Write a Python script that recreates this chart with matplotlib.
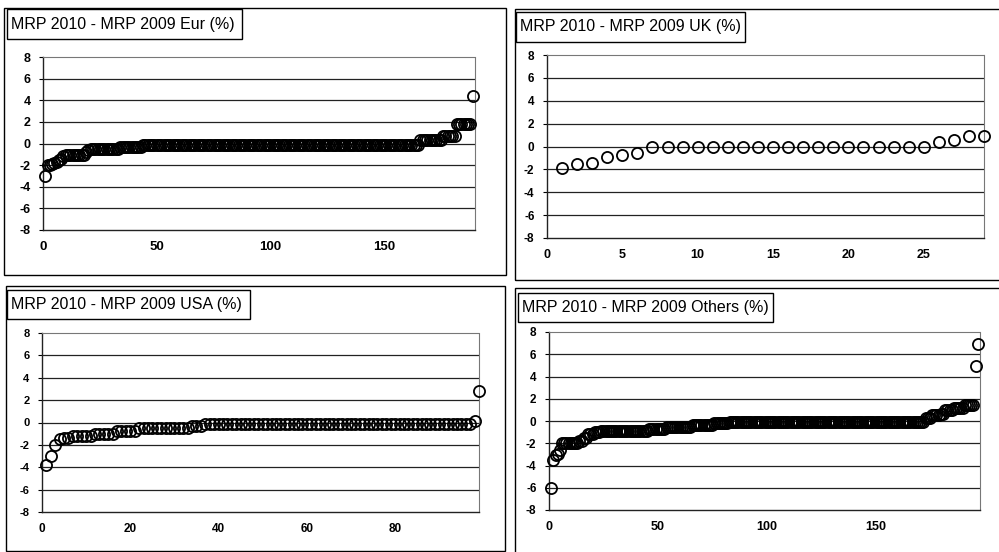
import numpy as np
import matplotlib.pyplot as plt
from matplotlib.patches import Rectangle

plt.rcParams['font.family'] = ['Liberation Sans', 'DejaVu Sans']
plt.rcParams['axes.unicode_minus'] = False

# sorted differences, stored as runs of (value, count)
eur_vals = [-3.0, -2.0, -1.9, -1.8, -1.7, -1.5, -1.4, -1.2, -1.1, -0.8, -0.6, -0.5, -0.3, -0.1, 0.3, 0.7, 1.8, 4.4]
eur_cnts = [1, 2, 1, 1, 1, 1, 1, 1, 9, 1, 1, 13, 10, 122, 10, 6, 7, 1]

uk_vals = [-1.9, -1.5, -1.4, -0.9, -0.7, -0.6, -0.05, 0.4, 0.6, 0.9]
uk_cnts = [1, 1, 1, 1, 1, 1, 19, 1, 1, 2]

usa_vals = [-3.8, -3.0, -2.0, -1.5, -1.4, -1.2, -1.0, -0.8, -0.5, -0.3, -0.15, 0.1, 2.8]
usa_cnts = [1, 1, 1, 1, 2, 5, 5, 5, 12, 3, 61, 1, 1]

oth_vals = [-6.0, -3.5, -3.1, -3.0, -2.6, -2.0, -1.8, -1.5, -1.2, -1.0, -0.9, -0.7, -0.5, -0.4, -0.2,
            -0.05, 0.3, 0.5, 0.6, 1.0, 1.2, 1.4, 4.9, 6.9]
oth_cnts = [1, 1, 1, 1, 1, 8, 2, 2, 3, 3, 22, 8, 12, 10, 7, 90, 3, 4, 2, 4, 5, 5, 1, 1]

titles = ['MRP 2010 - MRP 2009 Eur (%)', 'MRP 2010 - MRP 2009 UK (%)',
          'MRP 2010 - MRP 2009 USA (%)', 'MRP 2010 - MRP 2009 Others (%)']
xticks = [[0, 50, 100, 150], [0, 5, 10, 15, 20, 25], [0, 20, 40, 60, 80], [0, 50, 100, 150]]
yticks = [-8, -6, -4, -2, 0, 2, 4, 6, 8]

W, H = 999, 552
fig = plt.figure(figsize=(W / 100, H / 100), dpi=100)

def fx(px):
    return px / W

def fy(py):
    return 1 - py / H

def frame(x0, y0, x1, y1, lw=1.0):
    fig.patches.append(Rectangle((fx(x0), fy(y1)), fx(x1) - fx(x0), fy(y0) - fy(y1),
                                 transform=fig.transFigure, fill=False, ec='black', lw=lw))

# outer chart frames
frame(4, 8, 506, 275)
frame(515, 9, 1005, 280)
frame(6, 286, 505, 551)
frame(515, 288, 1005, 560)

# (axes px box, title box, x limit, tick font size)
panels = [
    ((43, 57, 475, 230), (7, 9, 242, 39), 190, 9),
    ((547, 55, 984, 238), (516, 12, 745, 42), 29, 8.5),
    ((42, 333, 479, 512), (7, 290, 250, 319), 99, 8),
    ((549, 332, 980, 510), (518, 293, 773, 322), 198, 8.5),
]
data = [(eur_vals, eur_cnts), (uk_vals, uk_cnts), (usa_vals, usa_cnts), (oth_vals, oth_cnts)]

for i, (box, tbox, xmax, fs) in enumerate(panels):
    l, t, r, b = box
    ax = fig.add_axes([fx(l), fy(b), fx(r) - fx(l), fy(t) - fy(b)])
    vals, cnts = data[i]
    y = np.repeat(vals, cnts)
    x = np.arange(1, len(y) + 1)
    ax.plot(x, y, 'o', mfc='none', mec='black', ms=8, mew=1.3, clip_on=False, zorder=3)
    ax.set_xlim(0, xmax)
    ax.set_ylim(-8, 8)
    ax.set_yticks(yticks)
    ax.set_xticks(xticks[i])
    for g in yticks[1:-1]:
        ax.axhline(g, color='#222222', lw=0.9, zorder=1)
    for s in ['top', 'right']:
        ax.spines[s].set_color('#777777')
        ax.spines[s].set_linestyle((0, (1, 1)))
        ax.spines[s].set_linewidth(0.8)
    for s in ['left', 'bottom']:
        ax.spines[s].set_color('#222222')
        ax.spines[s].set_linewidth(1.0)
    ax.tick_params(axis='y', direction='out', length=3, width=0.8, labelsize=fs, pad=6)
    ax.tick_params(axis='x', direction='out', length=0, labelsize=fs + 0.5, pad=8)
    for lab in ax.get_xticklabels() + ax.get_yticklabels():
        lab.set_fontweight('bold')
    # title box
    x0, y0, x1, y1 = tbox
    fig.patches.append(Rectangle((fx(x0), fy(y1)), fx(x1) - fx(x0), fy(y0) - fy(y1),
                                 transform=fig.transFigure, fc='white', ec='black', lw=1.0))
    fig.text(fx(x0 + 4), (fy(y0) + fy(y1)) / 2, titles[i], fontsize=11.5,
             ha='left', va='center')

fig.savefig('out.png', dpi=100)
